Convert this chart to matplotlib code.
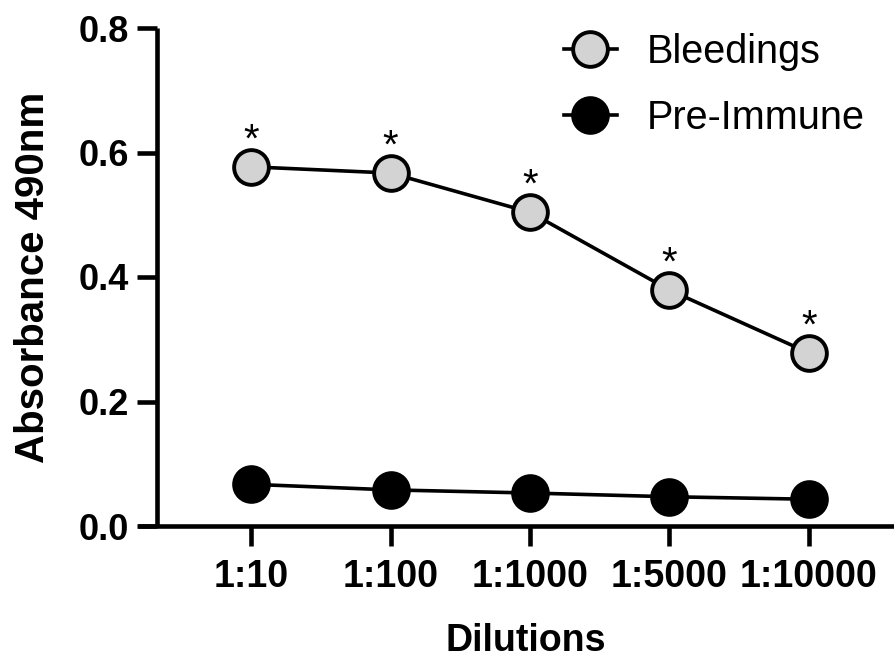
import matplotlib
matplotlib.use("Agg")
import matplotlib.pyplot as plt

dilutions = ["1:10", "1:100", "1:1000", "1:5000", "1:10000"]
bleedings = [0.577, 0.567, 0.504, 0.379, 0.278]
pre_immune = [0.067, 0.058, 0.053, 0.047, 0.043]
y_ticks = [0.0, 0.2, 0.4, 0.6, 0.8]
y_tick_labels = ["0.0", "0.2", "0.4", "0.6", "0.8"]
significance = ["*", "*", "*", "*", "*"]

plt.rcParams["font.family"] = ["Liberation Sans", "DejaVu Sans"]

fig = plt.figure(figsize=(8.94, 6.59), dpi=100)
ax = fig.add_axes([157 / 894, 1 - 526 / 659, (894 - 157) / 894, (526 - 28) / 659])

x = list(range(len(dilutions)))
lw_axis = 3.3
ax.plot(x, bleedings, color="black", lw=2.6, marker="o", ms=25,
        mfc="#d3d3d3", mec="black", mew=2.8, label="Bleedings", zorder=3, clip_on=False)
ax.plot(x, pre_immune, color="black", lw=2.6, marker="o", ms=25,
        mfc="black", mec="black", mew=2.8, label="Pre-Immune", zorder=3, clip_on=False)

for xi, yi, s in zip(x, bleedings, significance):
    ax.annotate(s, (xi, yi), xytext=(0, 19), textcoords="offset points",
                ha="center", va="center", fontsize=29, color="black")

ax.set_xlim(-0.675, 4.61)
ax.set_ylim(0, 0.8)
ax.set_xticks(x)
ax.set_xticklabels(dilutions, fontsize=27, fontweight="bold")
ax.set_yticks(y_ticks)
ax.set_yticklabels(y_tick_labels, fontsize=26, fontweight="bold")

for side in ["top", "right"]:
    ax.spines[side].set_visible(False)
for side in ["left", "bottom"]:
    ax.spines[side].set_linewidth(lw_axis)
    ax.spines[side].set_capstyle("butt")
ax.spines["bottom"].set_bounds(-0.675 - 19 / 139.5, 4.61)
ax.spines["bottom"].set_clip_on(False)

ax.tick_params(axis="both", direction="out", length=14.5, width=lw_axis, color="black")
ax.tick_params(axis="y", pad=6)
ax.tick_params(axis="x", pad=9)

ax.set_ylabel("Absorbance 490nm", fontsize=29, fontweight="bold", labelpad=19)
ax.set_xlabel("Dilutions", fontsize=27, fontweight="bold", labelpad=20.5)

leg = ax.legend(loc="upper left", bbox_to_anchor=(0.525, 1.03), frameon=False,
                fontsize=28.5, handlelength=1.35, handletextpad=0.75, labelspacing=0.72,
                borderpad=0, markerscale=1.0)

fig.savefig("out.png", dpi=100)
